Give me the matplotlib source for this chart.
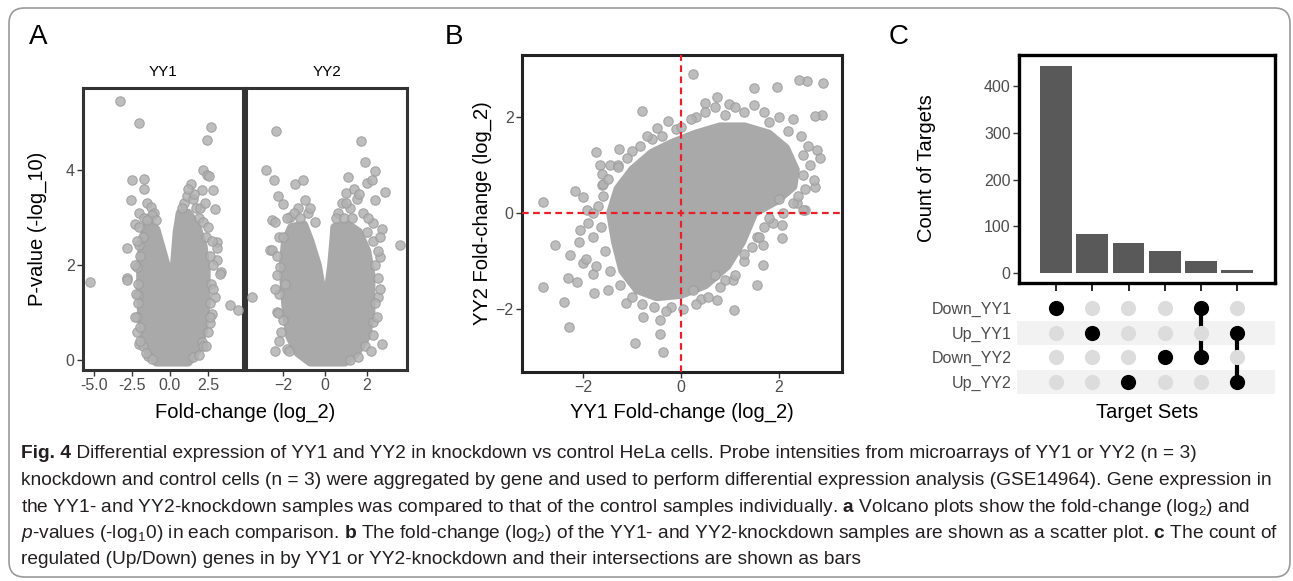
import matplotlib.pyplot as plt
from matplotlib.patches import FancyBboxPatch

W, H = 1293, 581

# ---- panel A: volcano plots (fold-change log2, -log10 p) ----
# dense cloud outlines
yy1_core = [(-0.9, -0.05), (-1.4, 0.15), (-1.75, 0.5), (-1.9, 1.0), (-1.95, 1.5), (-1.95, 2.0),
            (-1.85, 2.4), (-1.6, 2.8), (-1.2, 2.85), (-0.9, 2.75), (-0.5, 2.3), (-0.15, 1.9),
            (-0.02, 1.0), (0.1, 1.0), (0.25, 1.9), (0.45, 2.7), (0.65, 3.1), (1.2, 3.1),
            (1.8, 2.8), (2.2, 2.4), (2.4, 1.9), (2.4, 1.2), (2.2, 0.6), (1.8, 0.2), (1.2, -0.05)]
yy2_core = [(-0.7, -0.05), (-1.3, 0.15), (-1.7, 0.5), (-1.85, 1.0), (-1.95, 1.5), (-2.0, 2.0),
            (-1.9, 2.5), (-1.6, 2.8), (-1.0, 2.85), (-0.7, 2.5), (-0.35, 2.0), (-0.15, 1.5),
            (0.0, 0.9), (0.15, 1.5), (0.3, 2.0), (0.4, 2.5), (0.45, 2.8), (1.1, 2.85),
            (1.6, 2.7), (2.0, 2.3), (2.2, 1.8), (2.2, 1.0), (2.0, 0.5), (1.5, 0.15), (0.95, -0.05)]

# scattered genes outside the dense cloud
yy1_fc = [-3.29, -2.06, 2.70, 2.46, 2.19, 2.41, 2.59, 2.85, 2.96, 1.36, 2.08, -2.50, -1.69, -1.71,
          -2.59, -2.04, -2.28, -2.85, -2.02, -2.19, 3.07, 3.11, 3.07, 3.33, -1.49, -1.27, -1.06,
          -5.26, -2.80, -2.85, 3.95, 4.50, -2.08, -2.19, -2.19, -2.04, -1.43, 2.08, 2.63, 2.74,
          2.96, 3.29, 1.53, 0.9, 1.1, 1.5, 1.7, 1.9, 2.2, 2.4, 2.6, 2.7, 2.6, 2.5, 2.2,
          -1.4, -1.2, -0.9, -1.8, -2.0, -2.1, -2.1, -2.0, -1.8, -1.2,
          -2.2, -2.3, -2.25, -2.3, -2.0, -1.6, -1.7, -1.5, -2.05,
          2.5, 2.75, 2.8, 2.85, 2.65, 2.35, 1.9, 2.0, 1.6, 1.2, 0.8, 2.3]
yy1_p = [5.46, 5.00, 4.90, 4.63, 4.01, 3.89, 3.87, 3.58, 3.19, 3.71, 3.59, 3.79, 3.81, 3.61,
         3.38, 3.10, 2.86, 2.36, 2.43, 1.96, 2.49, 2.35, 2.11, 1.86, 3.31, 3.23, 3.10,
         1.65, 1.72, 1.68, 1.16, 1.05, 1.37, 0.91, 0.58, 0.34, 0.08, 0.39, 0.77, 0.98,
         1.33, 1.82, 0.07, 3.3, 3.45, 3.4, 3.2, 3.0, 2.9, 2.6, 2.2, 1.6, 1.2, 0.6, 0.3,
         3.0, 3.05, 2.95, 2.6, 2.2, 1.6, 1.2, 0.7, 0.3, 0.02,
         2.5, 2.0, 1.4, 0.9, 0.4, 0.15, 3.0, 2.95, 2.8,
         2.8, 2.5, 2.0, 1.5, 0.9, 0.3, 0.1, 3.2, 3.5, 3.6, 3.2, 3.3]
yy2_fc = [-2.33, 1.70, 1.90, 2.38, -2.81, -2.41, -2.22, -2.51, -1.41, -1.06, 1.11, 2.02, 2.22,
          2.38, -2.62, -2.02, -1.67, -0.95, 1.00, 1.51, 1.83, 2.27, 3.57, 2.86, 2.70, 2.62, 2.54,
          -2.54, -2.14, -3.46, -2.30, -2.38, -1.83, 2.70, 2.30, 1.59, 2.54, -1.90, -1.98,
          -1.3, -1.5, -0.8, -2.2, -2.3, -2.2, -2.1, 0.6, 0.8, 1.2, 1.4, 1.6, 2.0, 2.3, 2.4,
          2.4, 2.3, 1.9,
          -2.4, -2.0, -2.3, -2.4, -2.25, -2.2, -1.7, -1.8, -1.2, -0.7, -0.5,
          0.5, 0.9, 1.0, 1.3, 2.05, 2.6, 2.5, 2.6, 2.45, 2.2, 1.2]
yy2_p = [4.83, 4.62, 4.18, 3.99, 4.00, 3.79, 3.46, 2.96, 3.71, 3.80, 3.86, 3.73, 3.79,
         3.38, 2.32, 3.28, 3.02, 3.37, 3.51, 3.40, 3.09, 2.89, 2.42, 3.54, 2.77, 2.17, 1.72,
         2.32, 1.96, 1.33, 1.02, 0.18, 0.23, 0.34, 0.53, 0.06, 1.33, 1.61, 0.84,
         3.2, 3.1, 3.1, 2.6, 2.2, 1.4, 0.6, 3.1, 3.3, 3.2, 3.6, 3.5, 2.7, 2.5, 2.0,
         1.2, 0.8, 0.3,
         2.9, 2.6, 1.8, 1.5, 1.0, 0.4, 0.2, 3.0, 3.0, 3.2, 2.9,
         3.0, 3.0, 3.3, 3.0, 3.0, 2.6, 2.3, 1.5, 0.9, 0.2, 0.0]

# ---- panel B: YY1 vs YY2 fold-change ----
scatter_core = [(-0.9, -1.6), (-1.2, -1.2), (-1.35, -0.6), (-1.45, 0.0), (-1.3, 0.5), (-1.0, 0.9),
                (-0.6, 1.25), (-0.2, 1.45), (0.3, 1.65), (0.8, 1.8), (1.3, 1.8), (1.8, 1.65),
                (2.15, 1.35), (2.35, 0.9), (2.3, 0.55), (1.95, 0.25), (1.5, 0.0), (1.25, -0.6),
                (0.95, -1.1), (0.5, -1.5), (0.0, -1.7), (-0.5, -1.75)]
yy1_fold = [0.24, -0.81, -0.26, -0.49, -1.74, -1.27, -1.66, -1.46, -1.63, -1.63, -2.17, -2.82,
            -2.00, -2.58, -2.28, -2.00, -2.31, -2.82, -1.80, 2.92, 2.58, 2.41, 1.96, 1.50, 0.73,
            0.49, 0.99, 2.89, 2.75, 2.78, 2.85, 2.75, 2.54, 1.89, 2.07, 2.08, 1.55, 1.69, 1.69,
            1.55, 1.07, 0.70, -2.07, -1.93, 2.51, 2.37, 2.72, -2.30, -0.95, -0.44, -0.36, -0.44,
            1.08, -2.39, -1.79, -1.12, -0.78, 0.24, 0.74, -2.13,
            -1.0, -0.6, -0.1, 0.3, 0.9, 1.3, 1.8, 2.2, 2.5, 2.5, 2.3, 2.0, 1.6, 1.3, 0.9, 0.4,
            -0.2, -0.8, -1.5, -1.75, -1.8, -1.8, -1.6, -1.3,
            -1.5, -1.3, -1.1, -0.85, -0.7, -0.4, 0.0, 0.2, 0.5, 0.7, 1.1, 1.5, 1.7, 2.0, 2.3,
            2.45, 2.6, 2.65, 2.55, 2.4, 2.1, 1.8, 1.7, 1.45, 1.3, 1.1, 0.8, 0.55, 0.3, 0.05,
            -0.3, -0.55, -1.0, -1.25, -1.45, -1.55, -1.65, -1.7, -1.9, -2.1, -1.95, -1.6]
yy2_fold = [2.90, 2.13, 1.92, 1.76, 1.27, 1.34, 1.01, 1.01, 0.81, 0.58, 0.46, 0.22,
            0.34, -0.67, -0.88, -1.05, -1.36, -1.53, -1.26, 2.71, 2.75, 2.76, 2.62, 2.60, 2.42,
            2.30, 2.28, 2.04, 2.01, 1.31, 1.14, 0.55, 0.06, -0.21, -0.25, -0.53, -0.49, -0.67, -1.08,
            -1.50, -1.40, -1.29, -0.35, 0.06, 0.06, 0.20, 0.69, -2.37, -2.71, -2.51, -2.89, -2.23,
            -2.02, -1.85, -1.67, -1.88, -2.16, -1.60, -1.81, -1.43,
            1.3, 1.55, 1.75, 2.0, 2.05, 2.1, 1.9, 1.7, 1.2, 0.8, 0.2, 0.3, -0.5, -1.0, -1.4, -1.8,
            -1.95, -1.9, -1.6, -1.1, -0.5, 0.0, 0.6, 1.0,
            0.7, 0.95, 1.15, 1.4, 1.6, 1.6, 1.8, 1.95, 2.1, 2.2, 2.2, 2.25, 2.1, 2.0, 1.95,
            1.6, 1.4, 1.0, 0.5, 0.35, 0.0, -0.1, -0.3, -0.7, -0.85, -1.3, -1.55, -1.75, -1.9, -2.0,
            -2.05, -1.95, -1.75, -1.5, -1.2, -0.8, -0.3, 0.15, -0.2, -0.6, -0.95, 0.35]

# ---- panel C: upset plot ----
target_sets = ["Down_YY1", "Up_YY1", "Down_YY2", "Up_YY2"]
intersections = [["Down_YY1"], ["Up_YY1"], ["Up_YY2"], ["Down_YY2"],
                 ["Down_YY1", "Down_YY2"], ["Up_YY1", "Up_YY2"]]
target_counts = [443, 83, 64, 48, 26, 6]

caption_head = "Fig. 4"
caption_lines = [
    r" Differential expression of YY1 and YY2 in knockdown vs control "
    r"HeLa cells. Probe intensities from microarrays of YY1 or YY2 (n = 3)",
    r"knockdown and control cells (n = 3) were aggregated by gene and used to perform differential "
    r"expression analysis (GSE14964). Gene expression in",
    r"the YY1- and YY2-knockdown samples was compared to that of the control samples individually. "
    r"$\mathbf{a}$ Volcano plots show the fold-change (log$_2$) and",
    r"$\mathit{p}$-values (-log$_1$0) in each comparison. $\mathbf{b}$ The fold-change (log$_2$) of the "
    r"YY1- and YY2-knockdown samples are shown as a scatter plot. $\mathbf{c}$ The count of",
    r"regulated (Up/Down) genes in by YY1 or YY2-knockdown and their intersections are shown as bars",
]

plt.rcParams["font.family"] = ["Liberation Sans", "DejaVu Sans"]
plt.rcParams["mathtext.fontset"] = "custom"
plt.rcParams["mathtext.rm"] = "Liberation Sans"
plt.rcParams["mathtext.it"] = "Liberation Sans:italic"
plt.rcParams["mathtext.bf"] = "Liberation Sans:bold"

PT = "#b2b2b2"
PT_EDGE = "#9c9c9c"
CORE = "#a9a9a9"
TICK_C = "#4d4d4d"


def box(x0, y0, x1, y1):
    return [x0 / W, 1 - y1 / H, (x1 - x0) / W, (y1 - y0) / H]


def px(x, y):
    return x / W, 1 - y / H


def style_frame(ax, color="#333333", lw=2.2):
    for s in ax.spines.values():
        s.set_linewidth(lw)
        s.set_color(color)
    ax.tick_params(length=4, width=1, color="#333333", labelsize=11.5,
                   labelcolor=TICK_C, pad=2)


def draw_cloud(ax, core, xs, ys):
    cx, cy = zip(*core)
    ax.fill(cx, cy, color=CORE, ec=CORE, lw=6, joinstyle="round", zorder=2)
    ax.scatter(xs, ys, s=46, c=PT, edgecolors=PT_EDGE, linewidths=0.8,
               alpha=0.85, zorder=3)


fig = plt.figure(figsize=(W / 100, H / 100), dpi=100)

# panel A
ax1 = fig.add_axes(box(83, 88, 243, 370))
draw_cloud(ax1, yy1_core, yy1_fc, yy1_p)
ax1.set_xlim(-5.72, 4.80)
ax1.set_ylim(-0.21, 5.73)
ax1.set_xticks([-5.0, -2.5, 0.0, 2.5])
ax1.set_xticklabels(["-5.0", "-2.5", "0.0", "2.5"])
ax1.set_yticks([0, 2, 4])
style_frame(ax1)

ax2 = fig.add_axes(box(246, 88, 407, 370))
draw_cloud(ax2, yy2_core, yy2_fc, yy2_p)
ax2.set_xlim(-3.76, 3.90)
ax2.set_ylim(-0.21, 5.73)
ax2.set_xticks([-2, 0, 2])
ax2.set_yticks([])
style_frame(ax2)

fig.text(*px(163, 72), "YY1", ha="center", va="center", fontsize=11)
fig.text(*px(327, 72), "YY2", ha="center", va="center", fontsize=11)
fig.text(*px(245, 412), "Fold-change (log_2)", ha="center", va="center", fontsize=14.5)
fig.text(*px(37, 229), "P-value (-log_10)", ha="center", va="center",
         rotation=90, fontsize=14.5)

# panel B
axb = fig.add_axes(box(522, 55, 842, 372))
draw_cloud(axb, scatter_core, yy1_fold, yy2_fold)
axb.axvline(0, color="#e8202a", lw=1.6, dashes=(3, 2), zorder=4)
axb.axhline(0, color="#e8202a", lw=1.6, dashes=(3, 2), zorder=4)
axb.set_xlim(-3.26, 3.30)
axb.set_ylim(-3.31, 3.29)
axb.set_xticks([-2, 0, 2])
axb.set_yticks([-2, 0, 2])
style_frame(axb, color="#222222")
fig.text(*px(682, 412), "YY1 Fold-change (log_2)", ha="center", va="center", fontsize=14.5)
fig.text(*px(482, 213), "YY2 Fold-change (log_2)", ha="center", va="center",
         rotation=90, fontsize=14.5)

# panel C bars
axc = fig.add_axes(box(1019, 55, 1275, 283))
cols = list(range(len(target_counts)))
axc.bar(cols, target_counts, width=0.88, color="#595959", zorder=2)
axc.set_xlim(-1.02, 6.04)
axc.set_ylim(-21, 466)
axc.set_yticks([0, 100, 200, 300, 400])
axc.set_xticks(cols)
axc.set_xticklabels([])
style_frame(axc, color="black", lw=2.4)
axc.tick_params(axis="x", length=6, width=1.2, color="black")
fig.text(*px(927, 168), "Count of Targets", ha="center", va="center",
         rotation=90, fontsize=14.5)

# panel C matrix
axm = fig.add_axes(box(1017, 296, 1275, 394))
axm.set_xlim(-1.07, 6.04)
axm.set_ylim(3.5, -0.5)
for r in range(len(target_sets)):
    if r % 2 == 1:
        axm.axhspan(r - 0.5, r + 0.5, color="#f2f2f2", zorder=0, lw=0)
for c, members in enumerate(intersections):
    rows = [target_sets.index(m) for m in members]
    for r in range(len(target_sets)):
        axm.scatter(c, r, s=120, color="black" if r in rows else "#dcdcdc",
                    zorder=3, linewidths=0)
    if len(rows) > 1:
        axm.plot([c, c], [min(rows), max(rows)], color="black", lw=3, zorder=2)
axm.set_xticks([])
axm.set_yticks(range(len(target_sets)))
axm.set_yticklabels(target_sets)
axm.tick_params(axis="y", length=0, labelsize=11.5, labelcolor=TICK_C, pad=4)
for s in axm.spines.values():
    s.set_visible(False)
fig.text(*px(1147, 412), "Target Sets", ha="center", va="center", fontsize=14.5)

# panel letters
fig.text(*px(38, 37), "A", ha="center", va="center", fontsize=20)
fig.text(*px(454, 37), "B", ha="center", va="center", fontsize=20)
fig.text(*px(899, 37), "C", ha="center", va="center", fontsize=20)

# caption, sized so that the second line fills the box width
baselines = [458, 485, 512, 538, 564]
texts = [fig.text(*px(21, b), line, ha="left", va="baseline", fontsize=12,
                  color="#231f20") for line, b in zip(caption_lines, baselines)]
head = fig.text(*px(21, baselines[0]), caption_head, ha="left", va="baseline",
                fontsize=12, fontweight="bold", color="#231f20")
fig.canvas.draw()
scale = 1259 / texts[1].get_window_extent().width
for t in texts + [head]:
    t.set_fontsize(12 * scale)
fig.canvas.draw()
head_w = head.get_window_extent().width
texts[0].set_x((21 + head_w) / W)

border = FancyBboxPatch(px(9, 577), (1290 - 9) / W, (577 - 8) / H,
                        boxstyle="round,pad=0,rounding_size=0.012",
                        mutation_aspect=W / H, transform=fig.transFigure,
                        fill=False, ec="#9a9a9a", lw=1.2)
fig.patches.append(border)

fig.savefig("out.png", dpi=100)
